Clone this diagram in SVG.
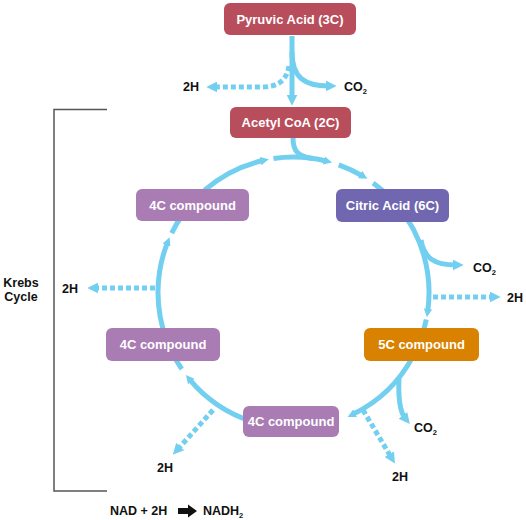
<svg xmlns="http://www.w3.org/2000/svg" width="526" height="520" viewBox="0 0 526 520">
<style>
.box text{font-family:"Liberation Sans",Arial,sans-serif;font-weight:bold;font-size:13px;fill:#fff;text-anchor:middle}
.lbl{font-family:"Liberation Sans",Arial,sans-serif;font-weight:bold;font-size:12.5px;fill:#111}
.sub{font-size:7.5px}
.flow{fill:none;stroke:#72CFF0;stroke-width:5}
.dot{fill:none;stroke:#72CFF0;stroke-width:5;stroke-dasharray:5 3}
.red{fill:#B84D5B}.pur{fill:#A97CB4}.ind{fill:#7067B0}.org{fill:#D98100}
</style>
<defs>
<marker id="arr" markerUnits="userSpaceOnUse" markerWidth="11" markerHeight="11" viewBox="0 0 10 10" refX="3" refY="5" orient="auto"><path d="M0,0 L10,5 L0,10 z" fill="#72CFF0"/></marker>
<marker id="arrs" markerUnits="userSpaceOnUse" markerWidth="8.5" markerHeight="8.5" viewBox="0 0 10 10" refX="3" refY="5" orient="auto"><path d="M0,0 L10,5 L0,10 z" fill="#72CFF0"/></marker>
</defs>
<g id="connectors">
<path class="flow" d="M292,36 V98" marker-end="url(#arr)"/>
<path class="flow" d="M292,52 C292,78 305,86 329,86" marker-end="url(#arr)"/>
<path class="dot" d="M289,66 C287,80 278,87 262,87 L214,87" marker-end="url(#arr)"/>
<path class="flow" d="M293,138 C293,150 297,156 312,158.5"/>
<path class="flow" d="M204.6,190.2 A135.5,135.5 0 0 1 263.0,160.5" marker-end="url(#arrs)"/>
<path class="flow" d="M273.5,158.5 A135.5,135.5 0 0 1 326.3,161.0" marker-end="url(#arrs)"/>
<path class="flow" d="M338.7,164.8 A135.5,135.5 0 0 1 362.3,175.8" marker-end="url(#arrs)"/>
<path class="flow" d="M373.1,182.9 A135.5,135.5 0 0 1 404.5,214.8"/>
<path class="flow" d="M397.3,205.4 A135.5,135.5 0 0 1 427.7,311.4" marker-end="url(#arrs)"/>
<path class="flow" d="M426.3,319.5 A135.5,135.5 0 0 1 420.8,338.8"/>
<path class="flow" d="M413.1,356.1 A135.5,135.5 0 0 1 352.9,414.3" marker-end="url(#arrs)"/>
<path class="flow" d="M251.6,421.4 A135.5,135.5 0 0 1 189.7,379.6" marker-end="url(#arrs)"/>
<path class="flow" d="M181.8,369.2 A135.5,135.5 0 0 1 170.7,349.8"/>
<path class="flow" d="M166.2,338.8 A135.5,135.5 0 0 1 167.4,242.8" marker-end="url(#arrs)"/>
<path class="flow" d="M171.7,233.1 A135.5,135.5 0 0 1 182.5,214.8"/>
<path class="flow" d="M421,240 C424,258 434,265 456,265" marker-end="url(#arr)"/>
<path class="dot" d="M433,297 L493,297" marker-end="url(#arr)"/>
<path class="dot" d="M155,288 L95,288" marker-end="url(#arr)"/>
<path class="flow" d="M399,377 C398,400 401,413 405,418" marker-end="url(#arr)"/>
<path class="dot" d="M363,410 L391,457" marker-end="url(#arr)"/>
<path class="dot" d="M213,410 L178,449" marker-end="url(#arr)"/>
</g>
<g id="pyruvic" class="box"><rect class="red" x="224" y="3" width="132" height="32" rx="6"/><text x="290" y="23.5">Pyruvic Acid (3C)</text></g>
<g id="acetyl" class="box"><rect class="red" x="230" y="107" width="121" height="31" rx="6"/><text x="290.5" y="127">Acetyl CoA (2C)</text></g>
<g id="c4-topleft" class="box"><rect class="pur" x="136" y="189" width="113" height="32" rx="6"/><text x="192.5" y="209.5">4C compound</text></g>
<g id="citric" class="box"><rect class="ind" x="336" y="189" width="113" height="33" rx="6"/><text x="392.5" y="210">Citric Acid (6C)</text></g>
<g id="c4-left" class="box"><rect class="pur" x="106" y="328" width="114" height="33" rx="6"/><text x="163" y="349">4C compound</text></g>
<g id="c5" class="box"><rect class="org" x="364" y="328" width="115" height="33" rx="6"/><text x="421.5" y="349">5C compound</text></g>
<g id="c4-bottom" class="box"><rect class="pur" x="243" y="406" width="96" height="31" rx="6"/><text x="291" y="426">4C compound</text></g>
<g id="labels">
<text class="lbl" x="183" y="91">2H</text>
<text class="lbl" x="344" y="91">CO<tspan class="sub" dy="3">2</tspan></text>
<text class="lbl" x="62" y="293">2H</text>
<text class="lbl" x="473" y="272">CO<tspan class="sub" dy="3">2</tspan></text>
<text class="lbl" x="507" y="302">2H</text>
<text class="lbl" x="414" y="432">CO<tspan class="sub" dy="3">2</tspan></text>
<text class="lbl" x="392" y="481">2H</text>
<text class="lbl" x="157" y="472">2H</text>
<text class="lbl" x="21" y="287" text-anchor="middle">Krebs</text>
<text class="lbl" x="21" y="301" text-anchor="middle">Cycle</text>
</g>
<g id="bracket"><path d="M107,109.5 H54 V491 H107" fill="none" stroke="#555" stroke-width="1.5"/></g>
<g id="legend">
<text class="lbl" x="110" y="515">NAD + 2H</text>
<polygon points="178,508 188,508 188,504.5 197,511 188,517.5 188,514 178,514" fill="#111"/>
<text class="lbl" x="203" y="515">NADH<tspan class="sub" dy="3">2</tspan></text>
</g>
</svg>
